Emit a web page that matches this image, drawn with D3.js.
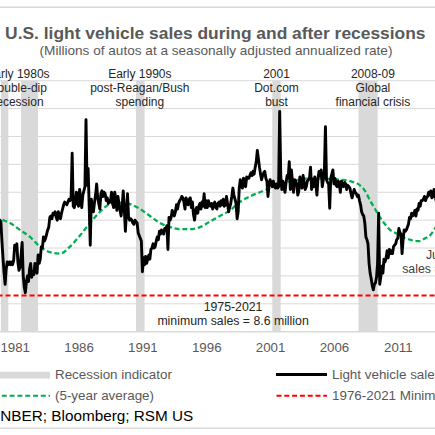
<!DOCTYPE html>
<html>
<head>
<meta charset="utf-8">
<script src="https://cdn.jsdelivr.net/npm/d3@7"></script>
<style>
  html, body { margin: 0; padding: 0; background: #fff; overflow: hidden; }
  svg { display: block; font-family: "Liberation Sans", Arial, sans-serif; }
</style>
</head>
<body>
<svg id="chart" width="435" height="435"></svg>
<script>
/* U.S. light vehicle sales around recessions (SAAR, millions). */

const START_YEAR = 1979; // first month of `sales` is January of this year

// monthly light vehicle sales, millions, seasonally adjusted annualized rate
const sales = [
  15.0, 15.3, 15.1, 14.5, 14.2, 13.5, 13.8, 14.2, 13.9, 13.6, 14.0, 13.9, // 1979
  12.5, 11.3, 10.2, 9.4, 10.5, 11.0, 10.8, 11.0, 10.8, 11.0, 10.8, 11.1,  // 1980
  12.2, 12.0, 12.3, 11.0, 10.4, 10.6, 11.5, 12.4, 10.0, 9.2, 8.8, 9.6,    // 1981
  10.0, 9.6, 10.5, 10.9, 9.9, 10.3, 10.1, 10.9, 10.4, 10.2, 11.5, 10.9,   // 1982
  11.2, 12.1, 12.0, 12.8, 12.5, 12.7, 13.0, 13.3, 13.5, 14.2, 14.3, 14.1, // 1983
  14.5, 14.4, 14.6, 14.2, 14.0, 14.6, 14.3, 14.1, 14.5, 14.8, 15.1, 15.3, // 1984
  15.2, 15.1, 15.3, 15.5, 15.4, 15.6, 18.8, 15.0, 14.9, 15.3, 16.0, 15.2, // 1985
  15.0, 16.2, 15.6, 14.9, 15.8, 16.1, 16.4, 21.2, 16.5, 17.7, 15.0, 12.2, // 1986
  15.5, 14.9, 14.6, 15.3, 15.8, 16.6, 15.6, 15.2, 14.8, 15.9, 16.1, 15.7, // 1987
  16.0, 15.9, 15.4, 15.6, 15.2, 15.4, 15.3, 16.0, 15.2, 14.9, 16.0, 15.5, // 1988
  14.7, 15.7, 15.2, 14.7, 14.3, 15.0, 16.1, 14.8, 13.2, 14.5, 15.9, 14.2, // 1989
  14.0, 14.1, 14.0, 13.8, 13.7, 14.0, 13.9, 13.8, 13.1, 12.9, 12.7, 12.5, // 1990
  10.3, 11.3, 10.8, 11.4, 10.9, 11.2, 11.5, 11.2, 11.9, 12.0, 12.3, 12.0, // 1991
  12.1, 12.5, 12.8, 12.6, 13.2, 13.0, 13.3, 13.1, 13.0, 13.4, 13.3, 13.6, // 1992
  11.9, 14.2, 14.0, 14.2, 14.7, 14.5, 14.3, 14.6, 15.1, 14.8, 15.2, 15.4, // 1993
  15.5, 15.7, 15.6, 15.3, 14.8, 15.6, 15.3, 15.1, 15.5, 15.6, 14.9, 15.3, // 1994
  14.4, 14.0, 14.7, 14.9, 14.5, 15.0, 15.2, 14.8, 15.3, 15.0, 15.9, 14.9, // 1995
  15.4, 14.9, 15.4, 15.1, 15.0, 15.2, 14.8, 15.1, 15.3, 14.9, 14.8, 15.2, // 1996
  15.3, 15.0, 15.4, 15.1, 15.5, 15.0, 15.1, 15.7, 15.2, 14.6, 14.9, 15.2, // 1997
  15.7, 16.3, 15.8, 15.5, 15.2, 14.1, 14.6, 16.3, 16.9, 16.4, 16.3, 17.0, // 1998
  16.6, 16.4, 17.1, 17.0, 17.0, 17.2, 17.4, 17.2, 17.5, 17.3, 17.8, 18.2, // 1999
  19.0, 18.4, 17.8, 17.3, 16.9, 17.2, 17.4, 17.5, 17.0, 16.8, 15.7, 16.5, // 2000
  16.9, 16.6, 16.4, 16.8, 16.5, 16.3, 16.6, 16.3, 16.4, 21.8, 17.2, 16.2, // 2001
  16.8, 16.4, 16.0, 16.7, 17.2, 17.0, 18.2, 16.2, 17.6, 16.8, 16.0, 16.9, // 2002
  16.8, 16.6, 15.8, 16.1, 17.1, 16.6, 16.3, 17.2, 16.7, 16.2, 16.4, 16.8, // 2003
  16.9, 17.0, 17.8, 16.2, 16.9, 16.4, 17.1, 16.6, 15.8, 17.0, 17.5, 17.2, // 2004
  17.6, 16.4, 16.9, 17.5, 20.7, 16.9, 16.7, 16.6, 14.85, 17.0, 17.3, 17.6, // 2005
  16.6, 17.0, 16.5, 16.4, 16.8, 16.6, 16.0, 16.8, 16.5, 16.4, 16.7, 16.6, // 2006
  16.2, 16.5, 16.4, 16.3, 15.9, 15.6, 15.9, 16.2, 16.0, 15.9, 15.7, 15.8, // 2007
  15.4, 15.1, 14.6, 14.4, 14.3, 13.8, 12.8, 12.6, 12.3, 10.9, 10.2, 9.8,  // 2008
  9.3, 9.0, 9.4, 9.5, 9.9, 10.9, 14.5, 9.4, 9.9, 10.7, 10.2, 11.2,        // 2009
  11.0, 11.3, 11.8, 11.3, 11.9, 11.6, 11.8, 11.6, 12.1, 12.2, 12.3, 12.6, // 2010
  12.7, 13.4, 13.1, 13.0, 11.6, 12.6, 13.3, 13.2, 13.3, 13.5, 13.7, 14.2, // 2011
  14.1, 14.5, 14.3, 14.4, 14.7, 14.3, 14.8, 14.7, 15.2, 15.0, 15.4, 15.4, // 2012
  15.5, 15.7, 15.4, 15.6, 15.7, 16.0, 15.8, 16.1, 15.6, 15.7, 16.2, 15.8, // 2013
  15.4, 15.5, 16.5, 16.3, 16.8, 17.0                                       // 2014
];

// 5-year average (decimal year, millions)
const avgYears = [1979.0, 1979.85, 1980.63, 1981.41, 1982.2, 1982.98, 1983.76, 1984.55,
  1985.33, 1986.11, 1986.9, 1987.68, 1988.46, 1989.24, 1990.03, 1990.81, 1991.59,
  1992.37, 1993.16, 1993.94, 1994.72, 1995.51, 1996.29, 1997.07, 1997.86, 1998.64,
  1999.42, 2000.2, 2000.99, 2001.77, 2002.55, 2003.33, 2004.12, 2004.9, 2005.69,
  2006.48, 2007.26, 2008.04, 2008.43, 2008.83, 2009.22, 2009.61, 2010.0, 2010.39,
  2010.78, 2011.17, 2011.57, 2011.96, 2012.35, 2012.74, 2013.13, 2013.52, 2013.91, 2014.5];
const avgValues = [14.6, 14.1, 13.8, 13.3, 12.8, 12.1, 11.7, 11.6,
  12.1, 12.9, 13.8, 14.6, 15.15, 15.25, 15.15, 14.8, 14.3,
  13.8, 13.5, 13.35, 13.35, 13.5, 13.9, 14.3, 14.7, 15.3,
  15.7, 16.0, 16.3, 16.5, 16.8, 16.9, 17.0, 17.0, 16.95,
  16.9, 16.8, 16.5, 16.1, 15.4, 14.8, 14.2, 13.7, 13.3,
  13.1, 12.9, 12.7, 12.6, 12.5, 12.5, 12.7, 12.9, 13.4, 14.2];

// NBER recessions (decimal years)
const recessionStart = [1979.92, 1981.5, 1990.5, 2001.17, 2007.92];
const recessionEnd = [1980.5, 1982.83, 1991.17, 2001.83, 2009.42];

const MIN_SALES = 8.6;
const tickYears = d3.range(1981, 2012, 5);
const gridValues = d3.range(8, 25, 2);

const recessionLabels = [
  { year: 1981.25, lines: ["Early 1980s", "Double-dip", "recession"] },
  { year: 1990.8, lines: ["Early 1990s", "post-Reagan/Bush", "spending"] },
  { year: 2001.5, lines: ["2001", "Dot.com", "bust"] },
  { year: 2009.05, lines: ["2008-09", "Global", "financial crisis"] },
];
const minNote = { year: 1998.1, lines: ["1975-2021", "minimum sales = 8.6 million"] };
const lastNote = { year: 2015.45, lines: ["June 2021", "sales = 15.4 million"] };

const svg = d3.select("#chart");
svg.append("rect").attr("width", 435).attr("height", 435).attr("fill", "#fff");

const x = d3.scaleLinear().domain([1981, 2011]).range([14.7, 397.8]);
const y = d3.scaleLinear().domain([6, 24]).range([331.7, 80.7]);
const xLeft = x(1975.9), xRight = x(2021.7);

// frame rules top and bottom
svg.append("line").attr("x1", 0).attr("x2", 435).attr("y1", 7.3).attr("y2", 7.3)
  .attr("stroke", "#d9d9d9").attr("stroke-width", 1.5);
svg.append("line").attr("x1", 0).attr("x2", 435).attr("y1", 428.3).attr("y2", 428.3)
  .attr("stroke", "#d9d9d9").attr("stroke-width", 1.5);

// title
svg.append("text").attr("x", 215.3).attr("y", 39.3).attr("text-anchor", "middle")
  .attr("font-size", 17.4).attr("font-weight", "bold").attr("fill", "#595959")
  .text("U.S. light vehicle sales during and after recessions");
svg.append("text").attr("x", 216).attr("y", 54.6).attr("text-anchor", "middle")
  .attr("font-size", 13.6).attr("fill", "#595959")
  .text("(Millions of autos at a seasonally adjusted annualized rate)");

// gridlines
svg.append("g").selectAll("line").data(gridValues).join("line")
  .attr("x1", xLeft).attr("x2", xRight)
  .attr("y1", (d) => y(d)).attr("y2", (d) => y(d))
  .attr("stroke", "#d9d9d9").attr("stroke-width", 1);

// recession bands
svg.append("g").selectAll("rect").data(recessionStart).join("rect")
  .attr("x", (d) => x(d))
  .attr("width", (d, i) => x(recessionEnd[i]) - x(d))
  .attr("y", y(24)).attr("height", y(6) - y(24))
  .attr("fill", "#d9d9d9");

// x axis
svg.append("line").attr("x1", xLeft).attr("x2", xRight).attr("y1", y(6)).attr("y2", y(6))
  .attr("stroke", "#d9d9d9").attr("stroke-width", 1.5);
const xAxis = svg.append("g").attr("transform", `translate(0,${y(6)})`)
  .call(d3.axisBottom(x).tickValues(tickYears).tickFormat(d3.format("d"))
    .tickSize(0).tickPadding(10.6));
xAxis.select(".domain").remove();
xAxis.selectAll("text").attr("font-size", 13.3).attr("fill", "#595959")
  .attr("font-family", "\"Liberation Sans\", Arial, sans-serif");

// minimum line
svg.append("line").attr("x1", xLeft).attr("x2", xRight)
  .attr("y1", y(MIN_SALES)).attr("y2", y(MIN_SALES))
  .attr("stroke", "#ff0000").attr("stroke-width", 2).attr("stroke-dasharray", "5,3");

// 5-year average
const avgData = avgYears.map((t, i) => [t, avgValues[i]]);
svg.append("path").datum(avgData)
  .attr("d", d3.line().x((d) => x(d[0])).y((d) => y(d[1])).curve(d3.curveMonotoneX))
  .attr("fill", "none").attr("stroke", "#00b050").attr("stroke-width", 2.3)
  .attr("stroke-dasharray", "5,2.8");

// monthly sales
svg.append("path").datum(sales)
  .attr("d", d3.line().x((d, i) => x(START_YEAR + i / 12)).y((d) => y(d)))
  .attr("fill", "none").attr("stroke", "#000").attr("stroke-width", 2.9)
  .attr("stroke-linejoin", "round");

// annotations
function multiline(note, y0, color, size) {
  const t = svg.append("text").attr("text-anchor", "middle")
    .attr("font-size", size).attr("fill", color);
  note.lines.forEach((s, i) => {
    t.append("tspan").attr("x", x(note.year)).attr("y", y0 + i * 14).text(s);
  });
}
recessionLabels.forEach((r) => multiline(r, 77.5, "#262626", 12));
multiline(minNote, 311, "#262626", 12.3);
multiline(lastNote, 259.3, "#404040", 12.3);

// legend
const lg = svg.append("g").attr("font-size", 13.4).attr("fill", "#595959");
lg.append("rect").attr("x", -5).attr("y", 371.7).attr("width", 55).attr("height", 6.8)
  .attr("fill", "#d9d9d9");
lg.append("text").attr("x", 55).attr("y", 378.5).text("Recession indicator");
lg.append("line").attr("x1", -6).attr("x2", 50).attr("y1", 395.7).attr("y2", 395.7)
  .attr("stroke", "#00b050").attr("stroke-width", 2).attr("stroke-dasharray", "5,2.8");
lg.append("text").attr("x", 55).attr("y", 399.5).text("(5-year average)");
lg.append("line").attr("x1", 276).attr("x2", 327).attr("y1", 374.4).attr("y2", 374.4)
  .attr("stroke", "#000").attr("stroke-width", 3);
lg.append("text").attr("x", 332).attr("y", 378.5).text("Light vehicle sales");
lg.append("line").attr("x1", 276.5).attr("x2", 327).attr("y1", 395.7).attr("y2", 395.7)
  .attr("stroke", "#ff0000").attr("stroke-width", 2).attr("stroke-dasharray", "5,2.8");
lg.append("text").attr("x", 332).attr("y", 399.5).text("1976-2021 Minimum");

// source line, "Source: " falls off the left edge as in the reference
const src = svg.append("text").attr("y", 420.5).attr("font-size", 15.3).attr("fill", "#000");
const pre = src.append("tspan").text("Source: ");
src.append("tspan").text("NBER; Bloomberg; RSM US");
const preW = pre.node().getComputedTextLength();
src.attr("x", 0.3 - preW);
</script>
</body>
</html>
